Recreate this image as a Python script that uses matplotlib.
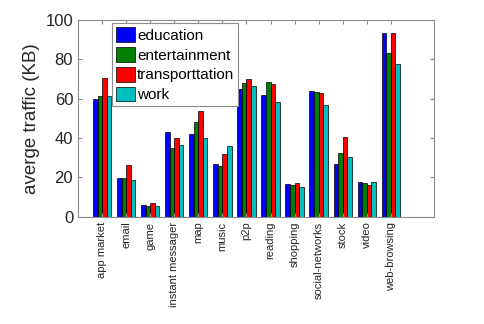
import numpy as np
import matplotlib
matplotlib.use("Agg")
import matplotlib.pyplot as plt

plt.rcParams["font.family"] = ["Liberation Sans", "DejaVu Sans"]

categories = ["app market", "email", "game", "instant messager", "map", "music",
              "p2p", "reading", "shopping", "social-networks", "stock", "video",
              "web-browsing"]

series_names = ["education", "entertainment", "transporttation", "work"]

education = [60.0, 19.5, 5.9, 43.2, 42.0, 26.6, 64.9, 61.9, 16.6, 63.9, 26.6, 17.5, 93.4]
entertainment = [61.4, 19.6, 5.4, 34.9, 48.0, 25.9, 67.8, 68.3, 16.0, 63.2, 32.5, 17.1, 83.2]
transporttation = [70.4, 26.3, 7.0, 40.0, 53.9, 31.9, 70.2, 67.5, 17.1, 62.7, 40.5, 16.1, 93.4]
work = [61.5, 18.8, 5.4, 36.6, 40.0, 35.9, 66.6, 58.2, 14.9, 56.8, 30.4, 17.5, 77.5]

colors = ["#0000ff", "#007f00", "#ff0000", "#00bfbf"]

fig = plt.figure(figsize=(4.85, 3.24), dpi=100)
ax = fig.add_axes([0.161, 0.331, 0.734, 0.607])

x = np.arange(1, len(categories) + 1)
w = 0.19
all_series = [education, entertainment, transporttation, work]
for i, (vals, name, c) in enumerate(zip(all_series, series_names, colors)):
    ax.bar(x + (i - 1.5) * w, vals, w, color=c, edgecolor="black",
           linewidth=0.5, label=name)

ax.set_xlim(0, 14.8)
ax.set_ylim(0, 100)
ax.set_yticks([0, 20, 40, 60, 80, 100])
ax.set_xticks(x)
ax.set_xticklabels(categories, rotation=90, fontsize=8)
ax.tick_params(axis="y", labelsize=12)
ax.tick_params(direction="in", top=True, right=True, length=3,
               color="0.55", labelcolor="0.15")
for sp in ax.spines.values():
    sp.set_color("0.55")
    sp.set_linewidth(0.8)
ax.set_ylabel("averge traffic (KB)", fontsize=13.5, color="0.15", labelpad=4)

leg = ax.legend(loc="upper left", bbox_to_anchor=(0.0955, 0.983),
                borderaxespad=0, fontsize=11, fancybox=False, framealpha=1,
                edgecolor="0.55", handlelength=1.25, handleheight=1.1,
                handletextpad=0.15, labelspacing=0.28, borderpad=0.25)
leg.get_frame().set_linewidth(0.8)

fig.savefig("out.png", dpi=100)
